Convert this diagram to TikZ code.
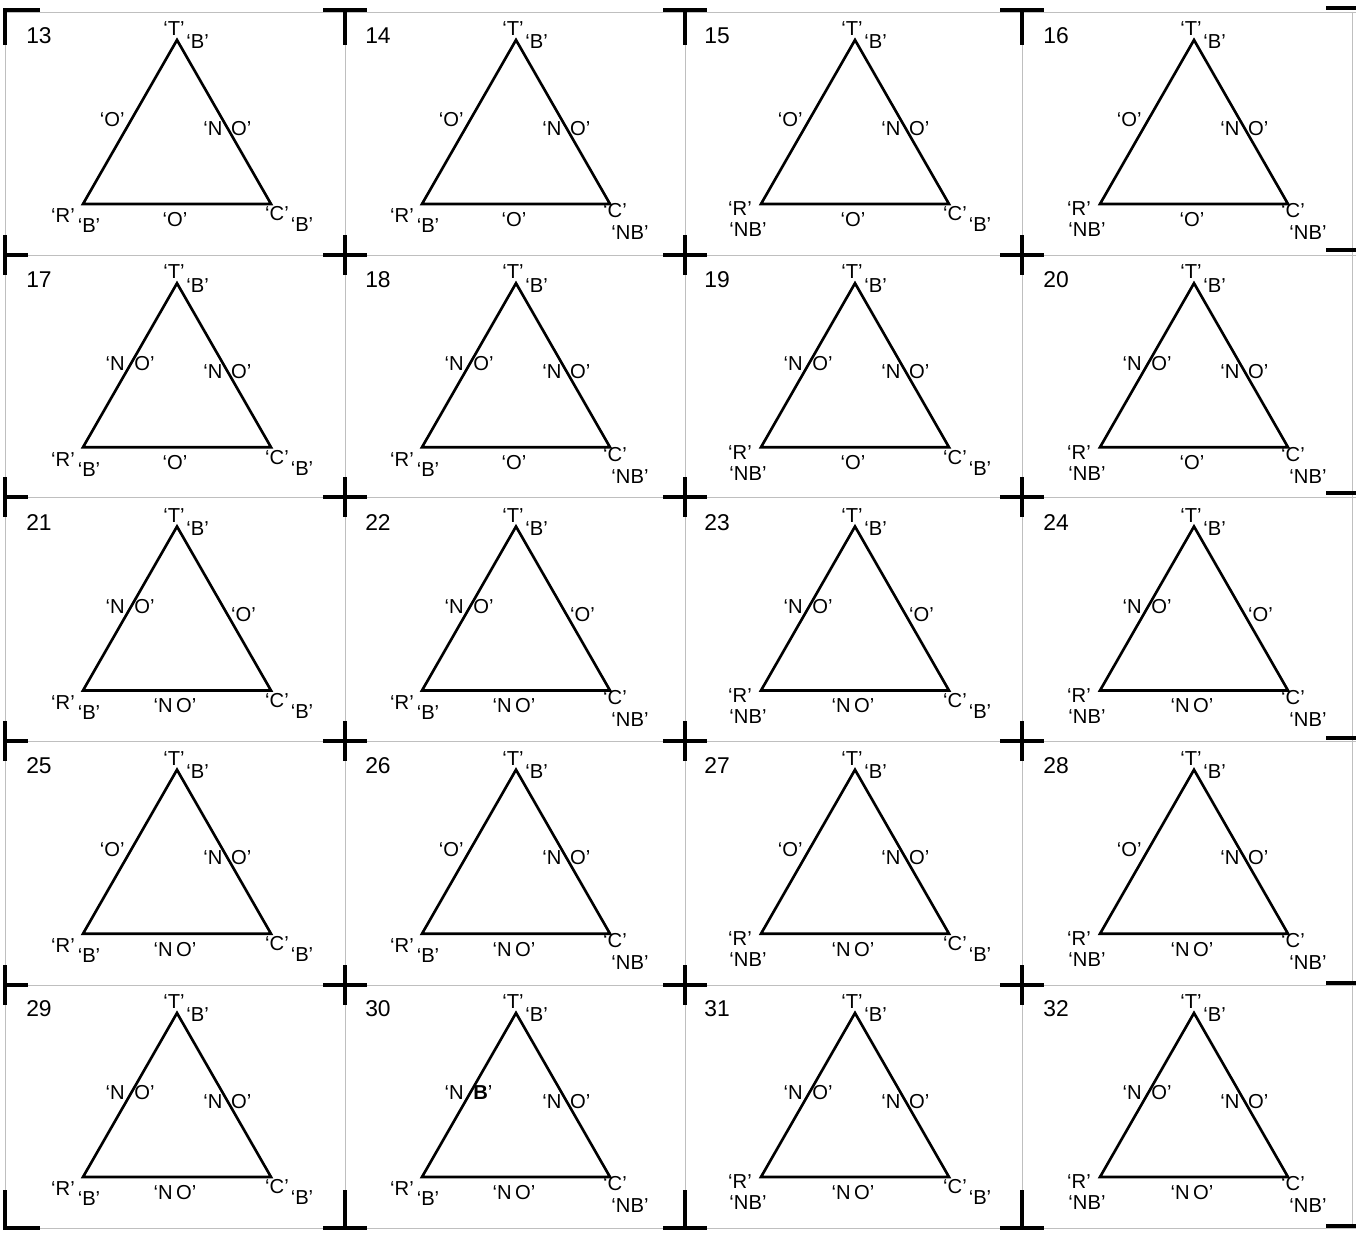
\documentclass[tikz,border=0pt]{standalone}
\usepackage{fontspec}
\setmainfont{Liberation Sans}
\usetikzlibrary{calc}

\begin{document}
\begin{tikzpicture}[
		x=0.02cm, y=-0.02cm,
		font=\fontsize{11.5}{13}\selectfont,
		% Thin ruling of the sheet
		rule/.style={gray!50, line width=0.4pt},
		% Heavy corner and cross marks
		regmark/.style={black, line width=2.2pt},
		% Triangle and its labels
		tri/.style={black, line width=1.5pt, line join=miter},
		lab/.style={inner sep=0pt},
		num/.style={font=\fontsize{13}{15}\selectfont, inner sep=0pt},
		% Texts on the sides (outer part / inner part)
		lsideO/.code={\def\lout{`O'}\def\lin{}},
		lsideNO/.code={\def\lout{`N}\def\lin{O'}},
		lsideNB/.code={\def\lout{`N}\def\lin{\textbf{B}'}},
		rsideO/.code={\def\rin{}\def\rout{`O'}},
		rsideNO/.code={\def\rin{`N}\def\rout{O'}},
		baseO/.code={\def\btxt{`O'}},
		baseNO/.code={\def\btxt{`N\,O'}},
		% Vertex states: B beside, NB below
		rvertB/.code={\def\rlx{-20}\def\rly{12}\def\rsx{6}\def\rsy{22}\def\rstxt{`B'}},
		rvertNB/.code={\def\rlx{-21}\def\rly{5}\def\rsx{-13}\def\rsy{26}\def\rstxt{`NB'}},
		cvertB/.code={\def\clx{6}\def\cly{10}\def\csx{31}\def\csy{21}\def\cstxt{`B'}},
		cvertNB/.code={\def\clx{5}\def\cly{7}\def\csx{20}\def\csy{29}\def\cstxt{`NB'}}
		]
		
		% ==============================================================================
		% 1. SHEET: ruling and marks
		% ==============================================================================
		\useasboundingbox (0,0) rectangle (1356,1239);
		\foreach \x in {5,345,685,1022,1352}
			\draw[rule] (\x,12) -- (\x,1228);
		\foreach \y in {12,255,497,741,985,1228}
			\draw[rule] (5,\y) -- (1356,\y);
		
		\foreach \x in {345,685,1022} {
			\foreach \y in {255,497,741,985}
				\draw[regmark] (\x-22,\y) -- (\x+22,\y) (\x,\y-20) -- (\x,\y+20);
			\draw[regmark] (\x-22,10) -- (\x+22,10) (\x,10) -- (\x,45);
			\draw[regmark] (\x-22,1228) -- (\x+22,1228) (\x,1190) -- (\x,1228);
		}
		\foreach \y in {255,497,741,985}
			\draw[regmark] (5,\y-20) -- (5,\y+20) (5,\y) -- (28,\y);
		\draw[regmark] (40,10) -- (5,10) -- (5,45);
		\draw[regmark] (5,1190) -- (5,1228) -- (40,1228);
		\foreach \y in {8,250,493,738,983,1226}
			\draw[regmark] (1326,\y) -- (1356,\y);
		
		% ==============================================================================
		% 2. PANELS 13--32: number / left side / right side / base / R / C
		% ==============================================================================
		\foreach \n/\ls/\rs/\bs/\rv/\cv in {
			13/O/NO/O/B/B, 14/O/NO/O/B/NB, 15/O/NO/O/NB/B, 16/O/NO/O/NB/NB,
			17/NO/NO/O/B/B, 18/NO/NO/O/B/NB, 19/NO/NO/O/NB/B, 20/NO/NO/O/NB/NB,
			21/NO/O/NO/B/B, 22/NO/O/NO/B/NB, 23/NO/O/NO/NB/B, 24/NO/O/NO/NB/NB,
			25/O/NO/NO/B/B, 26/O/NO/NO/B/NB, 27/O/NO/NO/NB/B, 28/O/NO/NO/NB/NB,
			29/NO/NO/NO/B/B, 30/NB/NO/NO/B/NB, 31/NO/NO/NO/NB/B, 32/NO/NO/NO/NB/NB} {
			\pgfmathtruncatemacro\col{mod(\n-13,4)}
			\pgfmathtruncatemacro\row{div(\n-13,4)}
			\pgfmathsetmacro\cx{5+339*\col}
			\pgfmathsetmacro\cy{12+243.25*\row}
			\tikzset{lside\ls, rside\rs, base\bs, rvert\rv, cvert\cv}
			
			\coordinate (t\n) at (\cx+172,\cy+28);
			\coordinate (r\n) at (\cx+78,\cy+192);
			\coordinate (c\n) at (\cx+266,\cy+192);
			\draw[tri] (t\n) -- (r\n) -- (c\n) -- cycle;
			
			\node[num] (n\n) at (\cx+34,\cy+24) {\n};
			\node[lab, anchor=south] (tt\n) at ($(t\n)+(-3,-4)$) {`T'};
			\node[lab, anchor=west] (tb\n) at ($(t\n)+(9,2)$) {`B'};
			
			\coordinate (lm\n) at ($(t\n)!0.5!(r\n)$);
			\node[lab, anchor=east] (lo\n) at ($(lm\n)+(-5,-2)$) {\lout};
			\node[lab, anchor=west] (li\n) at ($(lm\n)+(4,-2)$) {\lin};
			\coordinate (rm\n) at ($(t\n)!0.52!(c\n)$);
			\node[lab, anchor=east] (ri\n) at ($(rm\n)+(-3,3)$) {\rin};
			\node[lab, anchor=west] (ro\n) at ($(rm\n)+(5,3)$) {\rout};
			\node[lab, anchor=north] (bm\n) at ($(r\n)!0.5!(c\n)+(-2,8)$) {\btxt};
			
			\node[lab] (rn\n) at ($(r\n)+(\rlx,\rly)$) {`R'};
			\node[lab] (rs\n) at ($(r\n)+(\rsx,\rsy)$) {\rstxt};
			\node[lab] (cn\n) at ($(c\n)+(\clx,\cly)$) {`C'};
			\node[lab] (cs\n) at ($(c\n)+(\csx,\csy)$) {\cstxt};
		}
	\end{tikzpicture}
\end{document}
